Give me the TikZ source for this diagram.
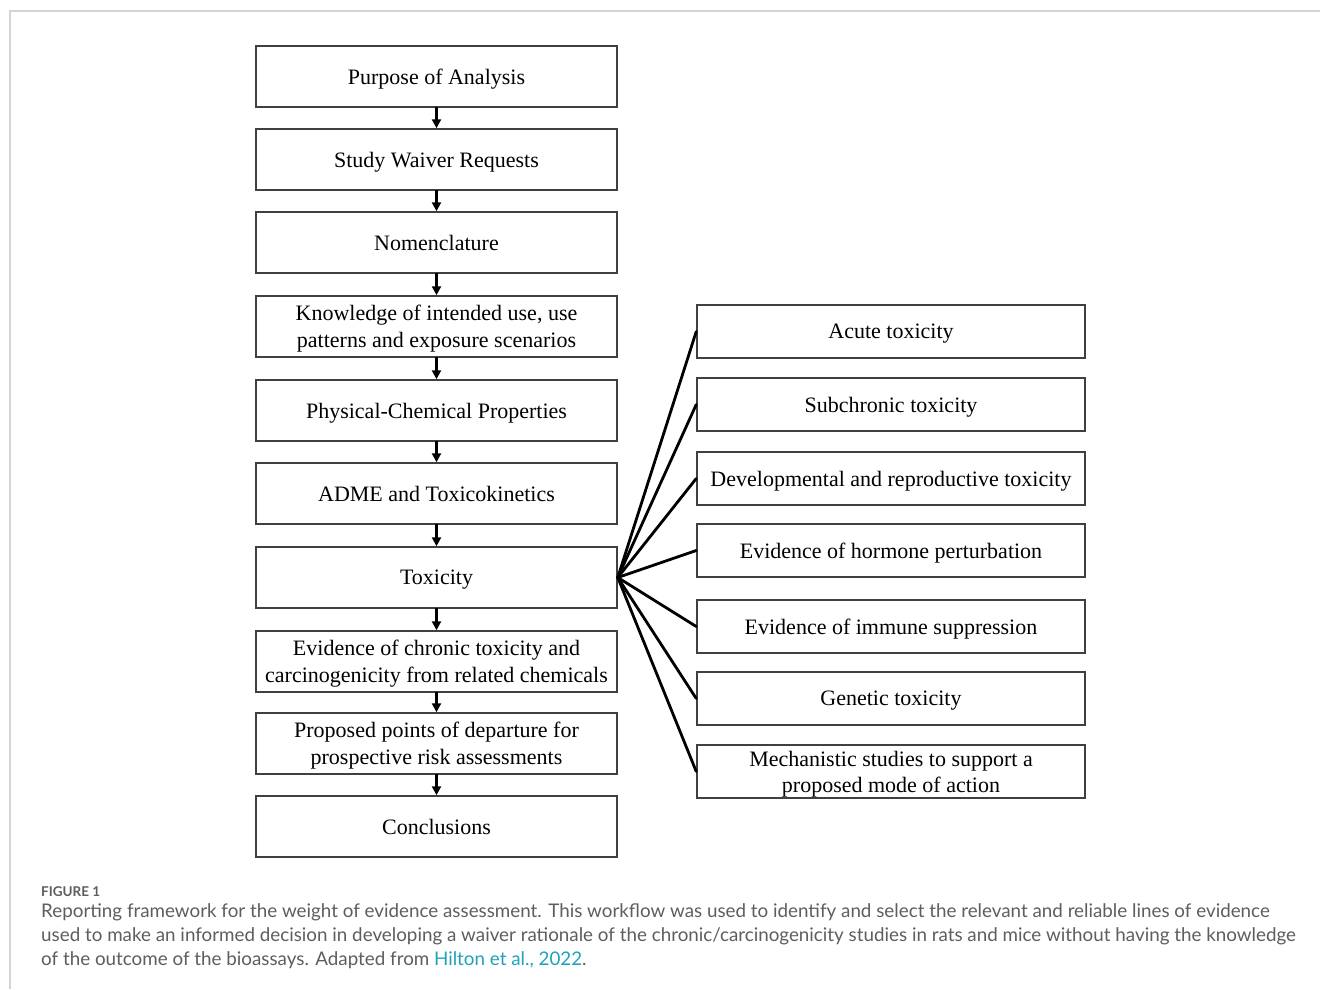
\documentclass[tikz,border=0pt]{standalone}
\usepackage{fontspec}
\setmainfont{Liberation Serif}
\newfontfamily\capfont{Lato}
\usetikzlibrary{arrows.meta}
\definecolor{framegrey}{HTML}{D4D4D4}
\definecolor{boxline}{HTML}{404040}
\definecolor{captext}{HTML}{5E5E5E}
\definecolor{linkcol}{HTML}{1FA3B8}
\tikzset{
  leftbox/.style={draw=boxline, line width=1.5pt, minimum width=361pt, minimum height=61pt, inner sep=0pt, align=center, text depth=-0.5pt, font=\fontsize{22}{27}\selectfont},
  rightbox/.style={draw=boxline, line width=1.5pt, minimum width=388pt, minimum height=53pt, inner sep=0pt, align=center, text depth=-0.5pt, font=\fontsize{22}{26}\selectfont},
  flowarrow/.style={line width=2.5pt, -{Triangle[length=9pt,width=9pt]}, shorten <=-0.5pt},
  fanline/.style={line width=2.8pt, line cap=round},
  capline/.style={anchor=west, inner sep=0pt, text=captext, font=\capfont\fontsize{18.8}{22}\selectfont}
}
\begin{document}
\begin{tikzpicture}[x=1pt,y=-1pt]
\useasboundingbox (0,0) rectangle (1320,989);
\fill[white] (0,0) rectangle (1320,989);
\draw[framegrey, line width=1.5pt] (1320,11) -- (10,11) -- (10,989);

% left column
\node[leftbox] (l1) at (436.5,76.5) {Purpose of Analysis};
\node[leftbox] (l2) at (436.5,159.5) {Study Waiver Requests};
\node[leftbox] (l3) at (436.5,242.5) {Nomenclature};
\node[leftbox] (l4) at (436.5,326.5) {Knowledge of intended use, use\\patterns and exposure scenarios};
\node[leftbox] (l5) at (436.5,410.5) {Physical-Chemical Properties};
\node[leftbox] (l6) at (436.5,493.5) {ADME and Toxicokinetics};
\node[leftbox] (l7) at (436.5,577.5) {Toxicity};
\node[leftbox] (l8) at (436.5,661.5) {Evidence of chronic toxicity and\\carcinogenicity from related chemicals};
\node[leftbox] (l9) at (436.5,743.5) {Proposed points of departure for\\prospective risk assessments};
\node[leftbox] (l10) at (436.5,826.5) {Conclusions};

\foreach \a/\b in {l1/l2,l2/l3,l3/l4,l4/l5,l5/l6,l6/l7,l7/l8,l8/l9,l9/l10}
  \draw[flowarrow] (\a.south) -- (\b.north);

% right column
\node[rightbox] (r1) at (891,331.5) {Acute toxicity};
\node[rightbox] (r2) at (891,404.5) {Subchronic toxicity};
\node[rightbox] (r3) at (891,478.5) {Developmental and reproductive toxicity};
\node[rightbox] (r4) at (891,550.5) {Evidence of hormone perturbation};
\node[rightbox] (r5) at (891,626.5) {Evidence of immune suppression};
\node[rightbox] (r6) at (891,698.5) {Genetic toxicity};
\node[rightbox] (r7) at (891,771.5) {Mechanistic studies to support a\\proposed mode of action};

\foreach \r in {r1,r2,r3,r4,r5,r6,r7}
  \draw[fanline] (l7.east) -- (\r.west);

% caption
\node[anchor=west, inner sep=0pt, text=captext, font=\capfont\bfseries\fontsize{13.5}{16}\selectfont] (fig) at (41,892) {FIGURE 1};
\node[capline] (c1) at (41,912) {Reporting framework for the weight of evidence assessment. This workflow was used to identify and select the relevant and reliable lines of evidence};
\node[capline] (c2) at (41,936) {used to make an informed decision in developing a waiver rationale of the chronic/carcinogenicity studies in rats and mice without having the knowledge};
\node[capline] (c3) at (41,960) {of the outcome of the bioassays. Adapted from \textcolor{linkcol}{Hilton et al., 2022}.};
\end{tikzpicture}
\end{document}
